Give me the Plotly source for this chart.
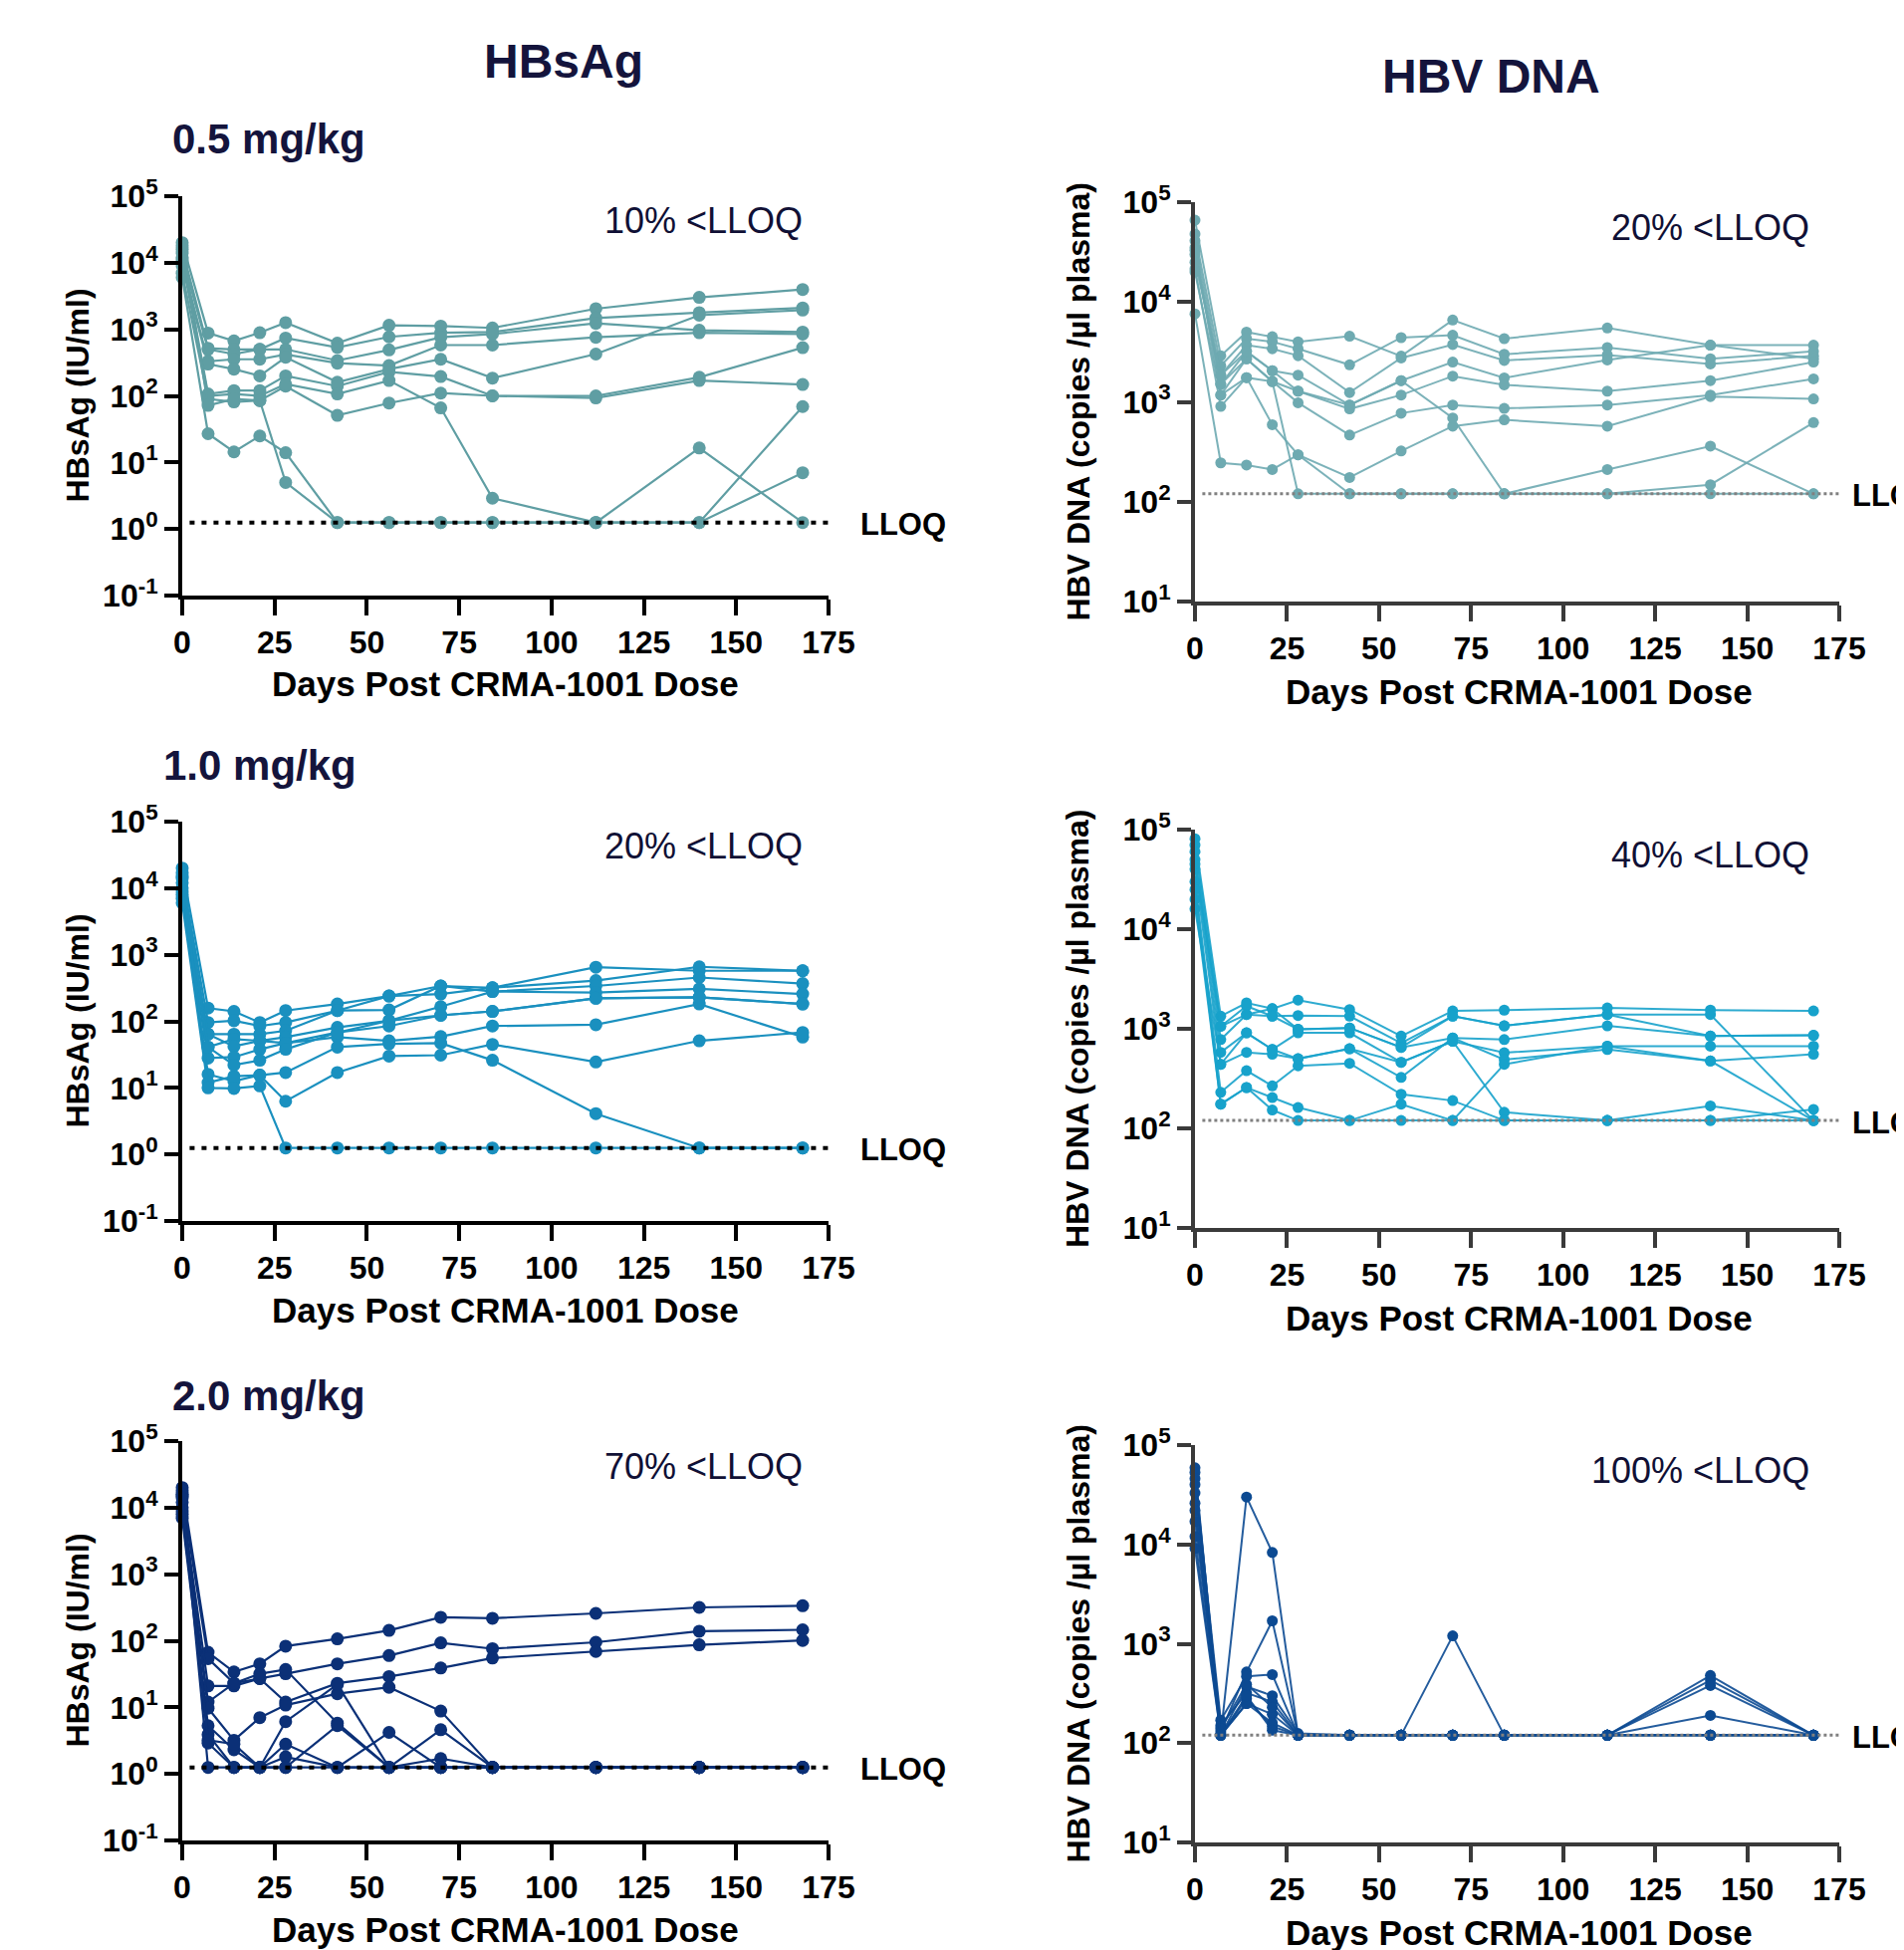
import plotly.graph_objects as go

# ---------------- data ----------------
DAYS = [0, 7, 14, 21, 28, 42, 56, 70, 84, 112, 140, 168]
HBSAG_LLOQ = 1.25
DNA_LLOQ = 120
X_TICKS = [0, 25, 50, 75, 100, 125, 150, 175]
HBSAG_TICKS = [0.1, 1, 10, 100, 1000, 10000, 100000]
HBSAG_TICKTEXT = ["10<sup>-1</sup>", "10<sup>0</sup>", "10<sup>1</sup>", "10<sup>2</sup>",
                  "10<sup>3</sup>", "10<sup>4</sup>", "10<sup>5</sup>"]
DNA_TICKS = [10, 100, 1000, 10000, 100000]
DNA_TICKTEXT = ["10<sup>1</sup>", "10<sup>2</sup>", "10<sup>3</sup>", "10<sup>4</sup>", "10<sup>5</sup>"]

# HBsAg (IU/ml), 0.5 mg/kg, one row per subject
hbsag_05 = [
    [20000, 880, 670, 890, 1260, 620, 1150, 1120, 1050, 2040, 3020, 3960],
    [16000, 520, 500, 500, 740, 535, 770, 890, 910, 1480, 1780, 2100],
    [12000, 500, 425, 500, 500, 340, 490, 760, 850, 1230, 970, 910],
    [10000, 330, 355, 355, 420, 310, 285, 580, 580, 760, 890, 850],
    [9000, 300, 252, 200, 380, 160, 252, 355, 185, 425, 1630, 1950],
    [14000, 107, 120, 120, 200, 140, 230, 195, 100, 100, 190, 530],
    [7000, 90, 81, 85, 140, 51, 78, 110, 100, 93, 170, 148],
    [11000, 100, 107, 100, 150, 107, 170, 66, 2.9, 1.25, 16.5, 1.25],
    [6000, 27, 14.4, 25, 14, 1.25, 1.25, 1.25, 1.25, 1.25, 1.25, 69],
    [18000, 72, 90, 85, 5, 1.25, 1.25, 1.25, 1.25, 1.25, 1.25, 7],
]
# HBsAg (IU/ml), 1.0 mg/kg
hbsag_10 = [
    [20000, 158, 141, 96, 145, 182, 240, 340, 320, 650, 575, 575],
    [15000, 96, 102, 85, 96, 145, 240, 257, 320, 410, 660, 575],
    [12000, 64, 64, 64, 72, 145, 148, 340, 280, 340, 455, 370],
    [10000, 41, 54, 51, 58, 81, 102, 166, 280, 270, 307, 257],
    [9000, 64, 42, 51, 47, 68, 85, 123, 141, 222, 230, 182],
    [8000, 28, 29, 38, 47, 58, 51, 59, 85, 89, 182, 58],
    [7000, 16, 12.6, 15.5, 17, 41, 46, 47, 26, 4.1, 1.25, 1.25],
    [14000, 12, 15, 15.5, 6.3, 17, 30, 31, 45, 24.5, 51, 68],
    [6000, 10, 9.8, 10.7, 1.25, 1.25, 1.25, 1.25, 1.25, 1.25, 1.25, 1.25],
    [17000, 41, 22, 26, 38, 68, 102, 123, 141, 222, 230, 182],
]
# HBsAg (IU/ml), 2.0 mg/kg
hbsag_20 = [
    [20000, 67, 34, 45, 83, 107, 143, 225, 218, 258, 317, 336],
    [15000, 54, 23, 27, 32, 45, 60, 93, 76, 95, 139, 146],
    [12000, 21, 21, 27, 12, 23, 29, 39, 55, 69, 87, 101],
    [10000, 12, 23, 32, 37, 5.8, 1.25, 1.25, 1.25, 1.25, 1.25, 1.25],
    [9000, 9.7, 3.2, 7, 10.8, 16, 20, 8.8, 1.25, 1.25, 1.25, 1.25],
    [8000, 5.3, 2.3, 1.25, 6.1, 22, 1.25, 1.25, 1.25, 1.25, 1.25, 1.25],
    [7000, 3.9, 1.25, 1.25, 2.8, 1.25, 4.2, 1.25, 1.25, 1.25, 1.25, 1.25],
    [18000, 2.9, 1.25, 1.25, 1.8, 1.25, 1.25, 4.6, 1.25, 1.25, 1.25, 1.25],
    [16000, 1.25, 1.25, 1.25, 1.25, 5.3, 1.25, 1.7, 1.25, 1.25, 1.25, 1.25],
    [14000, 3.2, 2.8, 1.25, 1.25, 1.25, 1.25, 1.25, 1.25, 1.25, 1.25, 1.25],
]
# HBV DNA (copies/ul plasma), 0.5 mg/kg
dna_05 = [
    [66000, 2900, 5000, 4500, 4000, 4550, 2870, 6600, 4300, 5500, 3700, 3700],
    [48000, 2300, 4300, 4000, 3400, 2350, 4400, 4650, 3000, 3500, 2700, 3200],
    [41000, 1850, 3700, 3400, 2900, 1240, 2750, 3750, 2600, 2950, 2400, 2900],
    [35000, 1500, 3200, 2050, 1850, 930, 1630, 2500, 1740, 2630, 3700, 2700],
    [33000, 1170, 2700, 1600, 1280, 850, 1170, 1810, 1480, 1280, 1630, 2500],
    [21500, 900, 1750, 1600, 980, 465, 770, 930, 860, 930, 1170, 1700],
    [20000, 1170, 1750, 590, 295, 175, 322, 570, 660, 570, 1130, 1070],
    [7600, 245, 233, 210, 295, 120, 120, 120, 120, 210, 360, 120],
    [30000, 1500, 2700, 1600, 120, 120, 120, 120, 120, 120, 148, 620],
    [25000, 1850, 3200, 2050, 1280, 930, 1630, 690, 120, 120, 120, 120],
]
# HBV DNA (copies/ul plasma), 1.0 mg/kg
dna_10 = [
    [81000, 1340, 1820, 1590, 1940, 1560, 845, 1510, 1540, 1620, 1540, 1510],
    [70000, 1060, 1690, 1340, 1360, 1340, 720, 1340, 1070, 1390, 1390, 120],
    [60000, 780, 1390, 1590, 990, 1020, 650, 810, 780, 1070, 845, 860],
    [50000, 580, 910, 620, 910, 910, 460, 750, 575, 670, 670, 670],
    [40000, 440, 580, 555, 500, 630, 325, 810, 490, 620, 475, 555],
    [30000, 230, 380, 267, 425, 450, 220, 190, 120, 120, 168, 120],
    [20000, 175, 257, 204, 162, 120, 175, 120, 440, 670, 475, 120],
    [16000, 440, 910, 620, 500, 630, 460, 750, 145, 120, 120, 120],
    [45000, 1060, 1390, 1340, 990, 1020, 650, 1340, 1070, 1390, 845, 860],
    [25000, 175, 257, 153, 120, 120, 120, 120, 120, 120, 120, 155],
]
# HBV DNA (copies/ul plasma), 2.0 mg/kg
dna_20 = [
    [59000, 120, 30000, 8300, 120, 120, 120, 120, 120, 120, 120, 120],
    [53000, 130, 520, 1700, 120, 120, 120, 120, 120, 120, 480, 120],
    [46000, 170, 470, 490, 120, 120, 120, 1200, 120, 120, 430, 120],
    [40000, 120, 370, 300, 125, 120, 120, 120, 120, 120, 380, 120],
    [33000, 150, 320, 260, 120, 120, 120, 120, 120, 120, 190, 120],
    [26000, 120, 250, 195, 120, 120, 120, 120, 120, 120, 120, 120],
    [22000, 120, 280, 147, 120, 120, 120, 120, 120, 120, 120, 120],
    [17000, 140, 390, 230, 120, 120, 120, 120, 120, 120, 120, 120],
    [12000, 120, 250, 160, 120, 120, 120, 120, 120, 120, 120, 120],
    [9100, 120, 300, 135, 120, 120, 120, 120, 120, 120, 120, 120],
]

PCT_LABELS = ["10% <LLOQ", "20% <LLOQ", "20% <LLOQ", "40% <LLOQ", "70% <LLOQ", "100% <LLOQ"]
DOSE_LABELS = ["0.5 mg/kg", "1.0 mg/kg", "2.0 mg/kg"]

# ---------------- layout helpers ----------------
W, H = 1912, 1958
OFF = 8  # page body margin: the figure starts 8 px right/down of the window corner
FONT = "Liberation Sans, Arial, Helvetica, sans-serif"
TXT = "#14143c"


def px(x):
    return (x - OFF) / W


def py(y):
    return 1 - (y - OFF) / H


panels = [
    dict(data=hbsag_05, kind="hbsag", color="#5f9ea3", lcolor="#5f9ea3", xr=(183, 832), yr=(197, 598)),
    dict(data=dna_05, kind="dna", color="#6eaab1", lcolor="rgba(110,170,177,0.9)", xr=(1200, 1847), yr=(203, 604)),
    dict(data=hbsag_10, kind="hbsag", color="#1a90bf", lcolor="#1a90bf", xr=(183, 832), yr=(825, 1226)),
    dict(data=dna_10, kind="dna", color="#17a2cb", lcolor="rgba(23,162,203,0.9)", xr=(1200, 1847), yr=(833, 1233)),
    dict(data=hbsag_20, kind="hbsag", color="#0b3077", lcolor="#0b3077", xr=(183, 832), yr=(1447, 1848)),
    dict(data=dna_20, kind="dna", color="#0c4a92", lcolor="rgba(12,74,146,0.9)", xr=(1200, 1847), yr=(1451, 1850)),
]

fig = go.Figure()
layout = dict(
    template="none",
    width=W, height=H, margin=dict(l=0, r=0, t=0, b=0, pad=0, autoexpand=False),
    paper_bgcolor="white", plot_bgcolor="white", showlegend=False,
    font=dict(family=FONT, color="black"),
)
annotations = []

for i, p in enumerate(panels, start=1):
    xa = "x" if i == 1 else f"x{i}"
    ya = "y" if i == 1 else f"y{i}"
    hb = p["kind"] == "hbsag"
    axcol = "black" if hb else "#3a3a3a"
    for subj in p["data"]:
        fig.add_trace(go.Scatter(
            x=DAYS, y=subj, mode="lines+markers", xaxis=xa, yaxis=ya,
            line=dict(color=p["lcolor"], width=2.2 if hb else 2.0),
            marker=dict(color=p["color"], size=13 if hb else 11, symbol="circle"),
            cliponaxis=False, hoverinfo="skip",
        ))
    lloq = HBSAG_LLOQ if hb else DNA_LLOQ
    fig.add_trace(go.Scatter(
        x=[2, 175], y=[lloq, lloq], mode="lines", xaxis=xa, yaxis=ya,
        line=dict(color="black" if hb else "#808080", width=4 if hb else 3,
                  dash="5px,7px" if hb else "3px,3px"),
        cliponaxis=False, hoverinfo="skip",
    ))
    x0, x1 = p["xr"]
    y0, y1 = p["yr"]
    layout["xaxis" if i == 1 else f"xaxis{i}"] = dict(
        domain=[px(x0), px(x1)], anchor=ya, range=[0, 175], automargin=False,
        tickvals=X_TICKS, ticks="outside", ticklen=16, tickwidth=4, tickcolor=axcol,
        showline=True, linewidth=4, linecolor=axcol, showgrid=False, zeroline=False,
        tickfont=dict(size=32, family=FONT, weight="bold", color="black"),
    )
    layout["yaxis" if i == 1 else f"yaxis{i}"] = dict(
        domain=[py(y1), py(y0)], anchor=xa, type="log", automargin=False,
        range=[-1, 5] if hb else [1, 5],
        tickvals=HBSAG_TICKS if hb else DNA_TICKS,
        ticktext=HBSAG_TICKTEXT if hb else DNA_TICKTEXT,
        ticks="outside", ticklen=14, tickwidth=4, tickcolor=axcol,
        showline=True, linewidth=4, linecolor=axcol, showgrid=False, zeroline=False,
        tickfont=dict(size=32, family=FONT, weight="bold", color="black"),
    )
    # percentage label
    annotations.append(dict(
        text=PCT_LABELS[i - 1], xref="paper", yref="paper",
        x=px(808 if hb else 1819), y=py(y0 + 25), xanchor="right", yanchor="middle",
        showarrow=False, font=dict(size=36, family=FONT, color="#101035"),
    ))
    # LLOQ label
    lloq_y = y1 - ((0.097 + 1) if hb else (2.08 - 1)) * (y1 - y0) / (6 if hb else 4)
    annotations.append(dict(
        text="LLOQ", xref="paper", yref="paper",
        x=px(862 if hb else 1858), y=py(lloq_y + 2), xanchor="left", yanchor="middle",
        showarrow=False, font=dict(size=31, family=FONT, weight="bold", color="black"),
    ))
    # axis titles
    annotations.append(dict(
        text="HBsAg (IU/ml)" if hb else "HBV DNA (copies /µl plasma)",
        xref="paper", yref="paper", textangle=-90,
        x=px(77 if hb else 1082), y=py((y0 + y1) / 2), xanchor="center", yanchor="middle",
        showarrow=False, font=dict(size=32, family=FONT, weight="bold", color="black"),
    ))
    annotations.append(dict(
        text="Days Post CRMA-1001 Dose", xref="paper", yref="paper",
        x=px(507 if hb else 1525), y=py(y1 + (89 if hb else 90)), xanchor="center", yanchor="middle",
        showarrow=False, font=dict(size=35, family=FONT, weight="bold", color="black"),
    ))

# column titles
annotations.append(dict(text="HBsAg", xref="paper", yref="paper", x=px(566), y=py(62),
                        xanchor="center", yanchor="middle", showarrow=False,
                        font=dict(size=48, family=FONT, weight="bold", color=TXT)))
annotations.append(dict(text="HBV DNA", xref="paper", yref="paper", x=px(1497), y=py(76),
                        xanchor="center", yanchor="middle", showarrow=False,
                        font=dict(size=48, family=FONT, weight="bold", color=TXT)))
# dose labels
for lab, (xl, yc) in zip(DOSE_LABELS, [(171, 140), (162, 768), (171, 1401)]):
    annotations.append(dict(text=lab, xref="paper", yref="paper", x=px(xl), y=py(yc),
                            xanchor="left", yanchor="middle", showarrow=False,
                            font=dict(size=42, family=FONT, weight="bold", color=TXT)))

layout["annotations"] = annotations
fig.update_layout(**layout)
fig.write_html("out.html")
